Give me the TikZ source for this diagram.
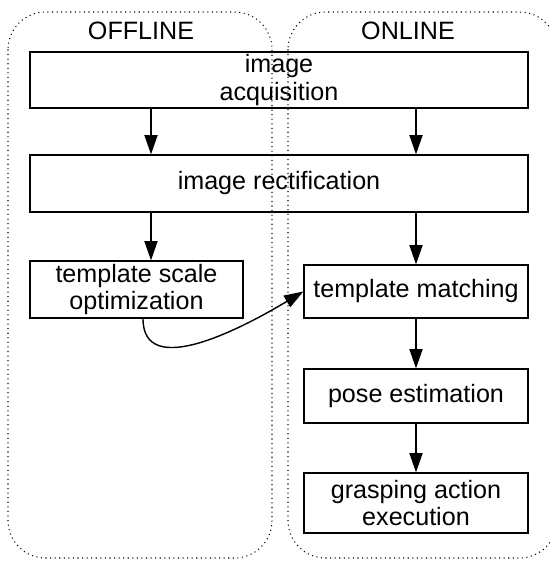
\documentclass[tikz,border=0pt]{standalone}
\usepackage{fontspec}
\setmainfont{Liberation Sans}
\usetikzlibrary{arrows.meta}
\tikzset{
    stage/.style={draw,line width=0.75pt,align=center,inner sep=0pt,
        font=\fontsize{14.3}{15.6}\selectfont},
    flow/.style={line width=0.8pt,-{Triangle[length=11pt,width=7.5pt]}},
    phase/.style={draw,dotted,line width=0.6pt,rounded corners=0.75cm},
}

\begin{document}
\begin{tikzpicture}[x=0.02cm,y=-0.02cm]
\useasboundingbox (0,0) rectangle (549,561);
\draw[phase] (8,12) rectangle (272,558);
\draw[phase] (288,12) rectangle (557,558);
\node[font=\fontsize{14.3}{15.6}\selectfont] (offlbl) at (141,31) {OFFLINE};
\node[font=\fontsize{14.3}{15.6}\selectfont] (onlbl) at (408,31) {ONLINE};
\node[stage,minimum width=9.96cm,minimum height=1.12cm] (acq) at (279,80) {image\\acquisition};
\node[stage,minimum width=9.96cm,minimum height=1.14cm] (rect) at (279,183.5) {image rectification};
\node[stage,minimum width=4.26cm,minimum height=1.14cm] (tso) at (136.5,289.5) {template scale\\optimization};
\node[stage,minimum width=4.48cm,minimum height=1.06cm] (match) at (416,291.5) {template matching};
\node[stage,minimum width=4.48cm,minimum height=1.08cm] (pose) at (416,396) {pose estimation};
\node[stage,minimum width=4.48cm,minimum height=1.2cm] (grasp) at (416,503) {grasping action\\execution};
\coordinate (offcol) at (151,0);
\draw[flow] (acq.south -| offcol) -- (rect.north -| offcol);
\draw[flow] (acq.south -| match) -- (rect.north -| match);
\draw[flow] (rect.south -| offcol) -- (tso.north -| offcol);
\draw[flow] (rect.south -| match) -- (match.north);
\draw[flow] (match) -- (pose);
\draw[flow] (pose) -- (grasp);
\draw[flow] ([xshift=0.13cm]tso.south) .. controls +(0,62) and +(-60,36) .. (match.west);
\end{tikzpicture}
\end{document}
